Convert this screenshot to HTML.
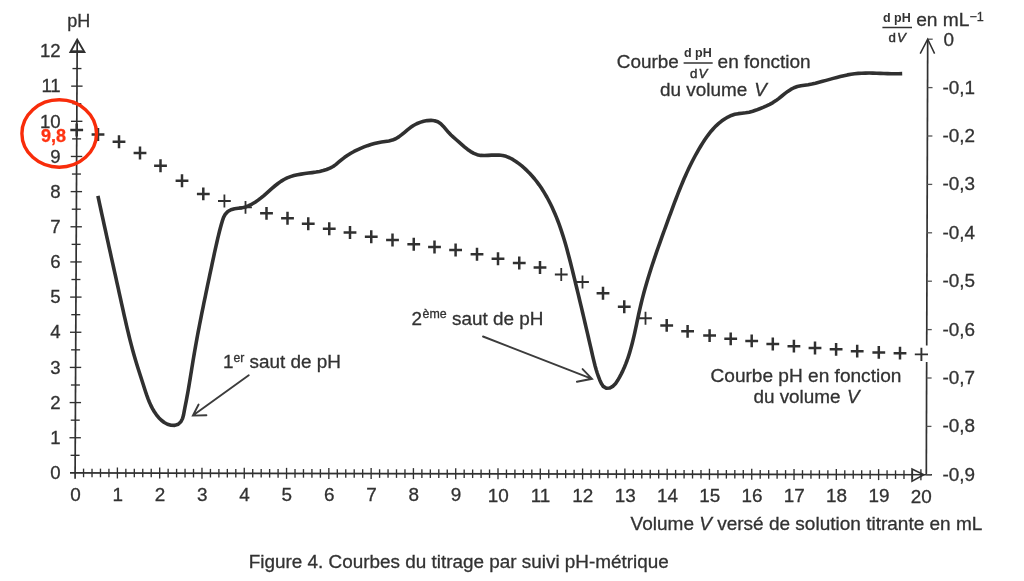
<!DOCTYPE html>
<html><head><meta charset="utf-8"><title>Figure 4</title>
<style>
html,body{margin:0;padding:0;background:#fff;}
body{width:1024px;height:581px;overflow:hidden;font-family:"Liberation Sans",sans-serif;}
svg{display:block;will-change:transform;font-family:"Liberation Sans",sans-serif;}
</style></head><body>
<svg width="1024" height="581" viewBox="0 0 1024 581">
<rect width="1024" height="581" fill="#fff"/>
<g stroke="#303030" stroke-width="1.7" fill="none" stroke-linecap="butt">
<line x1="77.2" y1="40" x2="75.08" y2="478.8"/>
<line x1="70" y1="472.89" x2="932" y2="474.73"/>
<line x1="927.7" y1="39.5" x2="926.71" y2="345.6"/>
<line x1="926.66" y1="362" x2="926.3" y2="475"/>
</g>
<g stroke="#303030" stroke-width="1.35" fill="none">
<line x1="70.59" y1="455.32" x2="79.59" y2="455.32"/>
<line x1="69.48" y1="437.74" x2="80.88" y2="437.74"/>
<line x1="70.76" y1="420.16" x2="79.76" y2="420.16"/>
<line x1="69.64" y1="402.58" x2="81.04" y2="402.58"/>
<line x1="70.93" y1="385" x2="79.93" y2="385"/>
<line x1="69.81" y1="367.42" x2="81.21" y2="367.42"/>
<line x1="71.1" y1="349.84" x2="80.1" y2="349.84"/>
<line x1="69.98" y1="332.26" x2="81.38" y2="332.26"/>
<line x1="71.27" y1="314.68" x2="80.27" y2="314.68"/>
<line x1="70.15" y1="297.1" x2="81.55" y2="297.1"/>
<line x1="71.44" y1="279.52" x2="80.44" y2="279.52"/>
<line x1="70.32" y1="261.94" x2="81.72" y2="261.94"/>
<line x1="71.61" y1="244.36" x2="80.61" y2="244.36"/>
<line x1="70.49" y1="226.78" x2="81.89" y2="226.78"/>
<line x1="71.78" y1="209.2" x2="80.78" y2="209.2"/>
<line x1="70.66" y1="191.62" x2="82.06" y2="191.62"/>
<line x1="71.95" y1="174.04" x2="80.95" y2="174.04"/>
<line x1="70.83" y1="156.46" x2="82.23" y2="156.46"/>
<line x1="72.12" y1="138.88" x2="81.12" y2="138.88"/>
<line x1="71" y1="121.3" x2="82.4" y2="121.3"/>
<line x1="72.29" y1="103.72" x2="81.29" y2="103.72"/>
<line x1="71.17" y1="86.14" x2="82.57" y2="86.14"/>
<line x1="72.46" y1="68.56" x2="81.46" y2="68.56"/>
<line x1="71.34" y1="50.98" x2="82.74" y2="50.98"/>
<line x1="83.56" y1="468.62" x2="83.56" y2="477.22"/>
<line x1="92.02" y1="468.64" x2="92.02" y2="477.24"/>
<line x1="100.47" y1="468.65" x2="100.47" y2="477.25"/>
<line x1="108.93" y1="468.67" x2="108.93" y2="477.27"/>
<line x1="117.39" y1="467.49" x2="117.39" y2="478.49"/>
<line x1="125.85" y1="468.71" x2="125.85" y2="477.31"/>
<line x1="134.31" y1="468.73" x2="134.31" y2="477.33"/>
<line x1="142.76" y1="468.74" x2="142.76" y2="477.34"/>
<line x1="151.22" y1="468.76" x2="151.22" y2="477.36"/>
<line x1="159.68" y1="467.58" x2="159.68" y2="478.58"/>
<line x1="168.14" y1="468.8" x2="168.14" y2="477.4"/>
<line x1="176.6" y1="468.82" x2="176.6" y2="477.42"/>
<line x1="185.05" y1="468.83" x2="185.05" y2="477.43"/>
<line x1="193.51" y1="468.85" x2="193.51" y2="477.45"/>
<line x1="201.97" y1="467.67" x2="201.97" y2="478.67"/>
<line x1="210.43" y1="468.89" x2="210.43" y2="477.49"/>
<line x1="218.89" y1="468.91" x2="218.89" y2="477.51"/>
<line x1="227.34" y1="468.92" x2="227.34" y2="477.52"/>
<line x1="235.8" y1="468.94" x2="235.8" y2="477.54"/>
<line x1="244.26" y1="467.76" x2="244.26" y2="478.76"/>
<line x1="252.72" y1="468.98" x2="252.72" y2="477.58"/>
<line x1="261.18" y1="469" x2="261.18" y2="477.6"/>
<line x1="269.63" y1="469.01" x2="269.63" y2="477.61"/>
<line x1="278.09" y1="469.03" x2="278.09" y2="477.63"/>
<line x1="286.55" y1="467.85" x2="286.55" y2="478.85"/>
<line x1="295.01" y1="469.07" x2="295.01" y2="477.67"/>
<line x1="303.47" y1="469.09" x2="303.47" y2="477.69"/>
<line x1="311.92" y1="469.1" x2="311.92" y2="477.7"/>
<line x1="320.38" y1="469.12" x2="320.38" y2="477.72"/>
<line x1="328.84" y1="467.94" x2="328.84" y2="478.94"/>
<line x1="337.3" y1="469.16" x2="337.3" y2="477.76"/>
<line x1="345.76" y1="469.18" x2="345.76" y2="477.78"/>
<line x1="354.21" y1="469.19" x2="354.21" y2="477.79"/>
<line x1="362.67" y1="469.21" x2="362.67" y2="477.81"/>
<line x1="371.13" y1="468.03" x2="371.13" y2="479.03"/>
<line x1="379.59" y1="469.25" x2="379.59" y2="477.85"/>
<line x1="388.05" y1="469.27" x2="388.05" y2="477.87"/>
<line x1="396.5" y1="469.28" x2="396.5" y2="477.88"/>
<line x1="404.96" y1="469.3" x2="404.96" y2="477.9"/>
<line x1="413.42" y1="468.12" x2="413.42" y2="479.12"/>
<line x1="421.88" y1="469.34" x2="421.88" y2="477.94"/>
<line x1="430.34" y1="469.36" x2="430.34" y2="477.96"/>
<line x1="438.79" y1="469.37" x2="438.79" y2="477.97"/>
<line x1="447.25" y1="469.39" x2="447.25" y2="477.99"/>
<line x1="455.71" y1="468.21" x2="455.71" y2="479.21"/>
<line x1="464.17" y1="469.43" x2="464.17" y2="478.03"/>
<line x1="472.63" y1="469.45" x2="472.63" y2="478.05"/>
<line x1="481.08" y1="469.47" x2="481.08" y2="478.07"/>
<line x1="489.54" y1="469.48" x2="489.54" y2="478.08"/>
<line x1="498" y1="468.3" x2="498" y2="479.3"/>
<line x1="506.46" y1="469.52" x2="506.46" y2="478.12"/>
<line x1="514.92" y1="469.54" x2="514.92" y2="478.14"/>
<line x1="523.37" y1="469.56" x2="523.37" y2="478.16"/>
<line x1="531.83" y1="469.57" x2="531.83" y2="478.17"/>
<line x1="540.29" y1="468.39" x2="540.29" y2="479.39"/>
<line x1="548.75" y1="469.61" x2="548.75" y2="478.21"/>
<line x1="557.21" y1="469.63" x2="557.21" y2="478.23"/>
<line x1="565.66" y1="469.65" x2="565.66" y2="478.25"/>
<line x1="574.12" y1="469.66" x2="574.12" y2="478.26"/>
<line x1="582.58" y1="468.48" x2="582.58" y2="479.48"/>
<line x1="591.04" y1="469.7" x2="591.04" y2="478.3"/>
<line x1="599.5" y1="469.72" x2="599.5" y2="478.32"/>
<line x1="607.95" y1="469.74" x2="607.95" y2="478.34"/>
<line x1="616.41" y1="469.75" x2="616.41" y2="478.35"/>
<line x1="624.87" y1="468.57" x2="624.87" y2="479.57"/>
<line x1="633.33" y1="469.79" x2="633.33" y2="478.39"/>
<line x1="641.79" y1="469.81" x2="641.79" y2="478.41"/>
<line x1="650.24" y1="469.83" x2="650.24" y2="478.43"/>
<line x1="658.7" y1="469.84" x2="658.7" y2="478.44"/>
<line x1="667.16" y1="468.66" x2="667.16" y2="479.66"/>
<line x1="675.62" y1="469.88" x2="675.62" y2="478.48"/>
<line x1="684.08" y1="469.9" x2="684.08" y2="478.5"/>
<line x1="692.53" y1="469.92" x2="692.53" y2="478.52"/>
<line x1="700.99" y1="469.93" x2="700.99" y2="478.53"/>
<line x1="709.45" y1="468.75" x2="709.45" y2="479.75"/>
<line x1="717.91" y1="469.97" x2="717.91" y2="478.57"/>
<line x1="726.37" y1="469.99" x2="726.37" y2="478.59"/>
<line x1="734.82" y1="470.01" x2="734.82" y2="478.61"/>
<line x1="743.28" y1="470.02" x2="743.28" y2="478.62"/>
<line x1="751.74" y1="468.84" x2="751.74" y2="479.84"/>
<line x1="760.2" y1="470.06" x2="760.2" y2="478.66"/>
<line x1="768.66" y1="470.08" x2="768.66" y2="478.68"/>
<line x1="777.11" y1="470.1" x2="777.11" y2="478.7"/>
<line x1="785.57" y1="470.11" x2="785.57" y2="478.71"/>
<line x1="794.03" y1="468.93" x2="794.03" y2="479.93"/>
<line x1="802.49" y1="470.15" x2="802.49" y2="478.75"/>
<line x1="810.95" y1="470.17" x2="810.95" y2="478.77"/>
<line x1="819.4" y1="470.19" x2="819.4" y2="478.79"/>
<line x1="827.86" y1="470.2" x2="827.86" y2="478.8"/>
<line x1="836.32" y1="469.02" x2="836.32" y2="480.02"/>
<line x1="844.78" y1="470.24" x2="844.78" y2="478.84"/>
<line x1="853.24" y1="470.26" x2="853.24" y2="478.86"/>
<line x1="861.69" y1="470.28" x2="861.69" y2="478.88"/>
<line x1="870.15" y1="470.29" x2="870.15" y2="478.89"/>
<line x1="878.61" y1="469.11" x2="878.61" y2="480.11"/>
<line x1="887.07" y1="470.33" x2="887.07" y2="478.93"/>
<line x1="895.53" y1="470.35" x2="895.53" y2="478.95"/>
<line x1="903.98" y1="470.37" x2="903.98" y2="478.97"/>
<line x1="912.44" y1="470.38" x2="912.44" y2="478.98"/>
<line x1="920.9" y1="469.2" x2="920.9" y2="480.2"/>
<line x1="927.7" y1="39.2" x2="932.7" y2="39.2" stroke-width="1.3" stroke="#555"/>
<line x1="927.54" y1="87.6" x2="932.54" y2="87.6" stroke-width="1.3" stroke="#555"/>
<line x1="927.39" y1="136" x2="932.39" y2="136" stroke-width="1.3" stroke="#555"/>
<line x1="927.23" y1="184.4" x2="932.23" y2="184.4" stroke-width="1.3" stroke="#555"/>
<line x1="927.08" y1="232.8" x2="932.08" y2="232.8" stroke-width="1.3" stroke="#555"/>
<line x1="926.92" y1="281.2" x2="931.92" y2="281.2" stroke-width="1.3" stroke="#555"/>
<line x1="926.76" y1="329.6" x2="931.76" y2="329.6" stroke-width="1.3" stroke="#555"/>
<line x1="926.61" y1="378" x2="931.61" y2="378" stroke-width="1.3" stroke="#555"/>
<line x1="926.45" y1="426.4" x2="931.45" y2="426.4" stroke-width="1.3" stroke="#555"/>
<line x1="926.3" y1="474.8" x2="931.3" y2="474.8" stroke-width="1.3" stroke="#555"/>
</g>
<g stroke="#303030" stroke-width="1.5" fill="none" stroke-linejoin="miter">
<path d="M77.2 39.6 L70.4 52 L84.4 52 Z" stroke-width="1.9"/>
<path d="M920.2 53.6 L927.7 39.2 L934.6 53.6"/>
<path d="M923.8 474.7 L912 469 L912 481.2 Z"/>
</g>
<g font-size="18.6" fill="#323232" stroke="#323232" stroke-width="0.3" text-anchor="end">
<text x="60.7" y="479.1">0</text>
<text x="60.7" y="443.94">1</text>
<text x="60.7" y="408.78">2</text>
<text x="60.7" y="373.62">3</text>
<text x="60.7" y="338.46">4</text>
<text x="60.7" y="303.3">5</text>
<text x="60.7" y="268.14">6</text>
<text x="60.7" y="232.98">7</text>
<text x="60.7" y="197.82">8</text>
<text x="60.7" y="162.66">9</text>
<text x="60.7" y="127.5">10</text>
<text x="60.7" y="92.34">11</text>
<text x="60.7" y="57.18">12</text>
</g>
<g font-size="18.9" fill="#323232" stroke="#323232" stroke-width="0.3" text-anchor="middle">
<text x="75.4" y="500.5">0</text>
<text x="117.69" y="500.6">1</text>
<text x="159.98" y="500.7">2</text>
<text x="202.27" y="500.8">3</text>
<text x="244.56" y="500.9">4</text>
<text x="286.85" y="501">5</text>
<text x="329.14" y="501.1">6</text>
<text x="371.43" y="501.2">7</text>
<text x="413.72" y="501.3">8</text>
<text x="456.01" y="501.4">9</text>
<text x="498.3" y="501.5">10</text>
<text x="540.59" y="501.6">11</text>
<text x="582.88" y="501.7">12</text>
<text x="625.17" y="501.8">13</text>
<text x="667.46" y="501.9">14</text>
<text x="709.75" y="502">15</text>
<text x="752.04" y="502.1">16</text>
<text x="794.33" y="502.2">17</text>
<text x="836.62" y="502.3">18</text>
<text x="878.91" y="502.4">19</text>
<text x="921.2" y="502.5">20</text>
</g>
<g font-size="18.9" fill="#323232" stroke="#323232" stroke-width="0.3">
<text x="943.6" y="45.8">0</text>
<text x="942.4" y="93.6">-0,1</text>
<text x="942.4" y="142">-0,2</text>
<text x="942.4" y="190.4">-0,3</text>
<text x="942.4" y="238.8">-0,4</text>
<text x="942.4" y="287.2">-0,5</text>
<text x="942.4" y="335.6">-0,6</text>
<text x="942.4" y="384">-0,7</text>
<text x="942.4" y="432.4">-0,8</text>
<text x="942.4" y="480.8">-0,9</text>
</g>
<path d="M70.3 130H83.1M76.7 123.6V136.4M91.6 134.5H104.4M98 128.1V140.9M112.6 141.75H125.4M119 135.35V148.15M133.6 153H146.4M140 146.6V159.4M154.1 165.75H166.9M160.5 159.35V172.15M175.6 180.75H188.4M182 174.35V187.15M196.9 193.9H209.7M203.3 187.5V200.3M260.1 213.3H272.9M266.5 206.9V219.7M281.1 218.25H293.9M287.5 211.85V224.65M301.85 223.75H314.65M308.25 217.35V230.15M322.85 228.75H335.65M329.25 222.35V235.15M343.6 232.5H356.4M350 226.1V238.9M364.85 236.75H377.65M371.25 230.35V243.15M386.1 240H398.9M392.5 233.6V246.4M407.35 244.25H420.15M413.75 237.85V250.65M428.1 247H440.9M434.5 240.6V253.4M449.2 250H462M455.6 243.6V256.4M470.6 254.25H483.4M477 247.85V260.65M491.6 258.75H504.4M498 252.35V265.15M512.85 263H525.65M519.25 256.6V269.4M533.6 267.5H546.4M540 261.1V273.9M596.6 293.25H609.4M603 286.85V299.65M617.85 306.75H630.65M624.25 300.35V313.15M660.3 325.4H673.1M666.7 319V331.8M681.2 331.3H694M687.6 324.9V337.7M703.2 335.6H716M709.6 329.2V342M724.3 338.8H737.1M730.7 332.4V345.2M745.3 340.9H758.1M751.7 334.5V347.3M766.4 344H779.2M772.8 337.6V350.4M787.5 346.2H800.3M793.9 339.8V352.6M808.6 348H821.4M815 341.6V354.4M829.7 349.3H842.5M836.1 342.9V355.7M850.8 351.2H863.6M857.2 344.8V357.6M872.4 352.4H885.2M878.8 346V358.8M893.6 353.2H906.4M900 346.8V359.6" stroke="#303030" stroke-width="2.5" fill="none"/>
<path d="M218 201H230.8M224.4 194.6V207.4M239.1 207.4H251.9M245.5 201V213.8M554.85 274.5H567.65M561.25 268.1V280.9M576.1 282H588.9M582.5 275.6V288.4M639.1 318.25H651.9M645.5 311.85V324.65" stroke="#303030" stroke-width="1.8" fill="none"/>
<path d="M914.8 354.4H928M921.4 347.8V361" stroke="#303030" stroke-width="1.9" fill="none"/>
<path d="M97.9 195.9 L98.67 199.49 L99.45 203.08 L100.22 206.66 L101 210.25 L101.78 213.83 L102.56 217.41 L103.34 220.99 L104.13 224.57 L104.91 228.15 L105.7 231.73 L106.49 235.31 L107.27 238.89 L108.06 242.46 L108.85 246.04 L109.64 249.62 L110.43 253.19 L111.23 256.77 L112.02 260.35 L112.81 263.92 L113.6 267.5 L114.4 271.07 L115.19 274.65 L115.98 278.23 L116.77 281.81 L117.57 285.39 L118.36 288.97 L119.15 292.55 L119.94 296.13 L120.73 299.72 L121.52 303.3 L122.32 306.89 L123.11 310.47 L123.91 314.06 L124.72 317.64 L125.53 321.22 L126.36 324.8 L127.19 328.38 L128.05 331.95 L128.91 335.51 L129.8 339.07 L130.7 342.62 L131.62 346.17 L132.57 349.71 L133.54 353.24 L134.54 356.76 L135.57 360.26 L136.63 363.76 L137.71 367.25 L138.82 370.74 L139.94 374.22 L141.07 377.7 L142.2 381.19 L143.32 384.68 L144.43 388.19 L145.56 391.69 L146.73 395.18 L147.98 398.63 L149.34 402.03 L150.83 405.37 L152.49 408.62 L154.34 411.78 L156.43 414.81 L158.76 417.66 L161.37 420.23 L164.26 422.46 L167.48 424.21 L171.04 425.26 L174.75 425.36 L178.19 424.23 L180.88 421.79 L182.55 418.51 L183.53 414.97 L184.2 411.35 L184.88 407.73 L185.6 404.14 L186.31 400.55 L186.99 396.95 L187.65 393.35 L188.29 389.74 L188.91 386.13 L189.51 382.52 L190.11 378.9 L190.69 375.28 L191.27 371.66 L191.86 368.04 L192.44 364.43 L193.04 360.81 L193.64 357.19 L194.26 353.58 L194.89 349.97 L195.53 346.36 L196.18 342.75 L196.84 339.15 L197.5 335.55 L198.18 331.95 L198.87 328.35 L199.56 324.75 L200.27 321.15 L200.97 317.56 L201.69 313.96 L202.41 310.37 L203.14 306.78 L203.87 303.19 L204.61 299.6 L205.36 296.01 L206.1 292.42 L206.85 288.83 L207.61 285.24 L208.36 281.65 L209.12 278.07 L209.88 274.48 L210.64 270.89 L211.41 267.31 L212.17 263.72 L212.93 260.13 L213.7 256.54 L214.47 252.96 L215.26 249.38 L216.05 245.8 L216.87 242.23 L217.7 238.66 L218.55 235.1 L219.43 231.55 L220.34 228.01 L221.3 224.47 L222.34 220.93 L223.56 217.44 L225.3 214.22 L227.8 211.52 L230.95 209.68 L234.51 208.7 L238.21 208.29 L241.87 207.87 L245.38 206.98 L248.75 205.69 L251.98 204.07 L255.1 202.21 L258.11 200.14 L261.03 197.89 L263.88 195.52 L266.69 193.07 L269.48 190.6 L272.27 188.14 L275.1 185.75 L277.97 183.49 L280.93 181.39 L283.98 179.51 L287.16 177.9 L290.49 176.6 L293.94 175.56 L297.5 174.75 L301.14 174.11 L304.83 173.57 L308.54 173.08 L312.26 172.6 L315.96 172.06 L319.6 171.4 L323.18 170.58 L326.65 169.54 L329.97 168.2 L333.11 166.48 L336.04 164.35 L338.87 161.99 L341.69 159.58 L344.62 157.3 L347.66 155.2 L350.81 153.26 L354.04 151.48 L357.32 149.83 L360.64 148.31 L364.02 146.93 L367.44 145.67 L370.91 144.56 L374.42 143.58 L377.98 142.73 L381.58 142.02 L385.23 141.45 L388.88 140.93 L392.41 140.12 L395.69 138.73 L398.77 136.87 L401.71 134.67 L404.58 132.29 L407.45 129.86 L410.38 127.55 L413.44 125.49 L416.66 123.77 L420.05 122.39 L423.61 121.31 L427.28 120.58 L430.95 120.33 L434.5 120.69 L437.81 121.82 L440.77 123.81 L443.43 126.46 L445.94 129.42 L448.43 132.31 L450.99 134.95 L453.62 137.41 L456.31 139.77 L459.05 142.13 L461.84 144.57 L464.7 147.04 L467.63 149.42 L470.67 151.57 L473.83 153.37 L477.14 154.7 L480.61 155.42 L484.24 155.54 L487.95 155.34 L491.67 155.11 L495.37 154.99 L499.03 155.08 L502.61 155.5 L506.09 156.37 L509.47 157.72 L512.72 159.46 L515.87 161.47 L518.89 163.66 L521.8 165.96 L524.59 168.37 L527.27 170.89 L529.85 173.51 L532.32 176.22 L534.69 179.01 L536.96 181.89 L539.13 184.83 L541.22 187.85 L543.21 190.93 L545.12 194.07 L546.95 197.26 L548.7 200.49 L550.37 203.76 L551.97 207.06 L553.5 210.39 L554.96 213.75 L556.36 217.13 L557.69 220.53 L558.98 223.95 L560.21 227.39 L561.39 230.85 L562.53 234.33 L563.62 237.82 L564.68 241.32 L565.71 244.84 L566.7 248.36 L567.67 251.9 L568.61 255.45 L569.54 259 L570.45 262.56 L571.35 266.12 L572.24 269.68 L573.12 273.25 L574 276.82 L574.88 280.38 L575.75 283.95 L576.62 287.52 L577.48 291.09 L578.34 294.66 L579.2 298.24 L580.05 301.81 L580.9 305.38 L581.75 308.95 L582.59 312.52 L583.44 316.09 L584.27 319.66 L585.11 323.23 L585.94 326.8 L586.77 330.37 L587.6 333.94 L588.43 337.51 L589.25 341.07 L590.07 344.63 L590.9 348.2 L591.71 351.76 L592.53 355.32 L593.36 358.87 L594.22 362.42 L595.13 365.96 L596.12 369.48 L597.2 372.98 L598.39 376.46 L599.73 379.92 L601.23 383.34 L603.25 386.38 L606.31 388.29 L609.86 388.05 L613.11 386.09 L615.65 383.4 L617.72 380.34 L619.57 377.14 L621.29 373.9 L622.89 370.61 L624.38 367.28 L625.76 363.91 L627.05 360.5 L628.24 357.05 L629.36 353.58 L630.41 350.08 L631.39 346.56 L632.31 343.01 L633.19 339.44 L634.03 335.87 L634.83 332.27 L635.62 328.67 L636.39 325.07 L637.15 321.46 L637.91 317.85 L638.69 314.25 L639.48 310.65 L640.29 307.06 L641.14 303.48 L642.02 299.92 L642.93 296.37 L643.87 292.83 L644.84 289.29 L645.84 285.77 L646.86 282.26 L647.9 278.76 L648.97 275.26 L650.06 271.77 L651.17 268.29 L652.3 264.81 L653.45 261.34 L654.61 257.88 L655.79 254.41 L656.98 250.96 L658.18 247.5 L659.4 244.05 L660.63 240.6 L661.86 237.16 L663.11 233.71 L664.36 230.26 L665.61 226.82 L666.87 223.37 L668.13 219.92 L669.39 216.47 L670.66 213.02 L671.93 209.57 L673.21 206.13 L674.5 202.69 L675.81 199.25 L677.13 195.82 L678.47 192.4 L679.83 188.98 L681.22 185.58 L682.63 182.2 L684.07 178.82 L685.55 175.47 L687.05 172.13 L688.6 168.81 L690.18 165.51 L691.81 162.23 L693.48 158.97 L695.2 155.74 L696.97 152.54 L698.79 149.36 L700.66 146.22 L702.6 143.1 L704.59 140.03 L706.67 137.01 L708.84 134.06 L711.12 131.21 L713.52 128.46 L716.07 125.85 L718.76 123.38 L721.62 121.08 L724.67 118.95 L727.91 117.05 L731.3 115.46 L734.8 114.33 L738.38 113.65 L741.99 113.23 L745.61 112.83 L749.2 112.21 L752.74 111.26 L756.24 110.07 L759.69 108.73 L763.1 107.36 L766.45 105.92 L769.73 104.36 L772.91 102.61 L775.99 100.6 L778.96 98.36 L781.87 96 L784.78 93.63 L787.73 91.39 L790.78 89.38 L793.97 87.74 L797.35 86.56 L800.89 85.79 L804.53 85.22 L808.19 84.66 L811.82 83.97 L815.43 83.18 L819.01 82.3 L822.58 81.36 L826.14 80.38 L829.68 79.38 L833.23 78.38 L836.77 77.42 L840.31 76.5 L843.86 75.65 L847.43 74.89 L851.01 74.26 L854.61 73.76 L858.23 73.41 L861.87 73.19 L865.53 73.08 L869.19 73.06 L872.87 73.12 L876.55 73.22 L880.24 73.35 L883.92 73.49 L887.6 73.62 L891.27 73.72 L894.93 73.76 L898.57 73.73 L902.2 73.6" stroke="#303030" stroke-width="3.6" fill="none" stroke-linecap="butt" stroke-linejoin="round"/>
<ellipse cx="59.2" cy="133.5" rx="37.3" ry="33.7" fill="none" stroke="#f82c0a" stroke-width="3.4"/>
<text x="41.0" y="142" font-size="18" font-weight="bold" fill="#ff3311" stroke="#ff3311" stroke-width="0.3">9,8</text>
<g stroke="#3c3c3c" stroke-width="1.9" fill="none" stroke-linecap="round">
<path d="M248.75 375.2 L192.9 415.6 M198.6 404.5 L192.9 415.6 L206.4 415.2"/>
<path d="M483 336.5 L592 378.8 M582.6 369.1 L592 378.8 L576.9 381.8"/>
</g>
<g fill="#323232" font-size="18.9" stroke="#323232" stroke-width="0.3">
<text x="67.3" y="27.2" font-size="18">pH</text>
<text x="223" y="367.7">1<tspan font-size="12.2" dy="-6.2">er</tspan><tspan dy="6.2"> saut de pH</tspan></text>
<text x="411.6" y="324.6">2<tspan font-size="12.4" dy="-6.4" dx="0.5">ème</tspan><tspan dy="6.4"> saut de pH</tspan></text>
<text x="616.8" y="67.8">Courbe</text>
<text x="717.6" y="67.8" font-size="19.05">en fonction</text>
<text x="660" y="95.5">du volume <tspan font-style="italic" dx="1.8">V</tspan></text>
<text x="683.9" y="56.5" font-size="12.5" font-weight="bold" stroke-width="0">d pH</text>
<text x="690.1" y="77.5" font-size="13.3" stroke-width="0.45">d<tspan font-style="italic" dx="1.1">V</tspan></text>
<line x1="683.6" y1="63" x2="712.7" y2="63" stroke="#323232" stroke-width="1.5"/>
<text x="883.0" y="21.6" font-size="12.5" font-weight="bold" stroke-width="0">d pH</text>
<text x="888.5" y="42" font-size="13.3" stroke-width="0.45">d<tspan font-style="italic" dx="1.1">V</tspan></text>
<line x1="882.4" y1="27.5" x2="912" y2="27.5" stroke="#323232" stroke-width="1.5"/>
<text x="916.2" y="26.4" font-size="19.2">en mL<tspan font-size="12.6" dy="-5.2">−1</tspan></text>
<text x="710.5" y="381.6" font-size="19.08">Courbe pH en fonction</text>
<text x="753.4" y="402.6">du volume <tspan font-style="italic" dx="1.2">V</tspan></text>
<text x="630.6" y="529.7" font-size="19">Volume <tspan font-style="italic">V</tspan> versé de solution titrante en mL</text>
<text x="248.8" y="567.7" font-size="18.9">Figure 4. Courbes du titrage par suivi pH-métrique</text>
</g>
</svg>
</body></html>
